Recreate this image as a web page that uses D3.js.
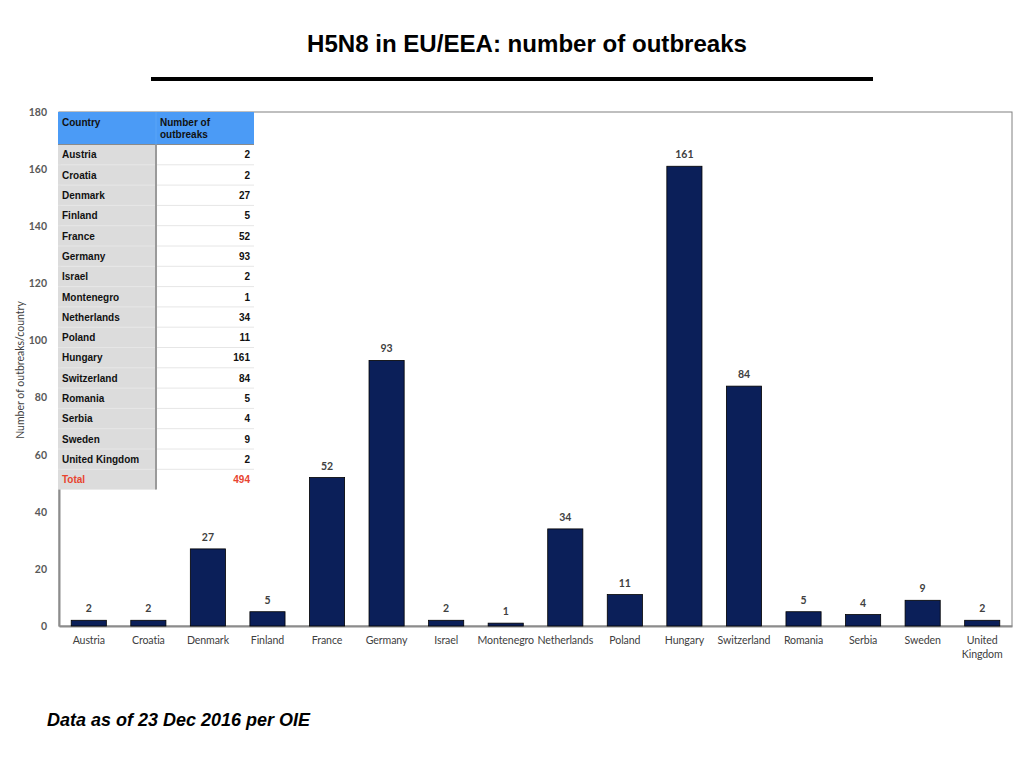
<!DOCTYPE html>
<html><head><meta charset="utf-8">
<script src="https://cdn.jsdelivr.net/npm/d3@7"></script>
<style>body{margin:0;background:#fff}svg{display:block}</style>
</head><body>
<script>
const countries = ["Austria","Croatia","Denmark","Finland","France","Germany","Israel","Montenegro","Netherlands","Poland","Hungary","Switzerland","Romania","Serbia","Sweden","United Kingdom"];
const outbreaks = [2,2,27,5,52,93,2,1,34,11,161,84,5,4,9,2];
const yTicks = [0,20,40,60,80,100,120,140,160,180];
const tableHeader = ["Country","Number of outbreaks"];
const totalLabel = "Total";
const totalValue = 494;
const titleText = "H5N8 in EU/EEA: number of outbreaks";
const footText = "Data as of 23 Dec 2016 per OIE";
const yTitle = "Number of outbreaks/country";

const W=1024,H=768;
const svg=d3.select("body").append("svg").attr("width",W).attr("height",H);
const L=59,R=1012,T=112,B=626;
const x=d3.scaleBand().domain(countries).range([L,R]).paddingInner(0.41).paddingOuter(0.205);
const y=d3.scaleLinear().domain([0,180]).range([B,T]);
const font="Lato, 'Open Sans', sans-serif";

// title
svg.append("text").attr("x",527).attr("y",52).attr("text-anchor","middle")
  .attr("font-family","'Liberation Sans', Arial, sans-serif").attr("font-weight","bold")
  .attr("font-size",24).attr("textLength",440).attr("lengthAdjust","spacingAndGlyphs").text(titleText);
svg.append("rect").attr("x",151).attr("y",77).attr("width",722).attr("height",4).attr("fill","#000");

// frame
svg.append("rect").attr("x",L).attr("y",T).attr("width",R-L).attr("height",B-T)
  .attr("fill","none").attr("stroke","#808080").attr("stroke-width",1);

// y axis
const ya=svg.append("g").attr("transform",`translate(${L},0)`)
  .call(d3.axisLeft(y).tickValues(yTicks).tickSize(0).tickPadding(12));
ya.select(".domain").attr("stroke","#8c8c8c").attr("stroke-width",2);
ya.selectAll("text").attr("font-family",font).attr("font-size",10.5).attr("font-weight",700).attr("fill","#595959");

// x axis
const xa=svg.append("g").attr("transform",`translate(0,${B})`)
  .call(d3.axisBottom(x).tickSize(0).tickPadding(10));
xa.select(".domain").attr("stroke","#8c8c8c").attr("stroke-width",2);
xa.selectAll("text").attr("font-family",font).attr("font-size",10.6).attr("letter-spacing","-0.1px").attr("fill","#404040")
  .each(function(d){
    if(d==="United Kingdom"){
      const t=d3.select(this).text(null);
      t.append("tspan").attr("x",0).attr("dy","0.71em").text("United");
      t.append("tspan").attr("x",0).attr("dy","1.4em").text("Kingdom");
    }
  });

// bars
svg.append("g").selectAll("rect").data(countries).join("rect")
  .attr("x",d=>x(d)).attr("width",x.bandwidth())
  .attr("y",(d,i)=>y(outbreaks[i])).attr("height",(d,i)=>B-y(outbreaks[i]))
  .attr("fill","#0b1f59").attr("stroke","#000").attr("stroke-width",0.8);

// value labels
svg.append("g").selectAll("text").data(countries).join("text")
  .attr("x",d=>x(d)+x.bandwidth()/2).attr("y",(d,i)=>y(outbreaks[i])-8)
  .attr("text-anchor","middle").attr("font-family",font).attr("font-size",10.5)
  .attr("font-weight",700).attr("fill","#404040").text((d,i)=>outbreaks[i]);

// y title
svg.append("text").attr("transform","translate(24,370) rotate(-90)").attr("text-anchor","middle")
  .attr("font-family",font).attr("font-size",10.5).attr("fill","#404040").text(yTitle);

// table
const tx=58, tc=156, tr=254, hTop=112, hBot=144.5, rowH=20.3;
const tg=svg.append("g");
tg.append("rect").attr("x",tx).attr("y",hTop).attr("width",tr-tx).attr("height",hBot-hTop).attr("fill","#4b9bf6");
const rows=countries.map((c,i)=>[c,outbreaks[i]]).concat([[totalLabel,totalValue]]);
const tfont="'Liberation Sans', Arial, sans-serif";
rows.forEach((r,i)=>{
  const ry=hBot+i*rowH;
  tg.append("rect").attr("x",tx).attr("y",ry).attr("width",tc-tx).attr("height",rowH).attr("fill","#dcdcdc");
  tg.append("rect").attr("x",tc).attr("y",ry).attr("width",tr-tc).attr("height",rowH).attr("fill","#fff");
  if(i>0) tg.append("line").attr("x1",tx).attr("x2",tr).attr("y1",ry).attr("y2",ry).attr("stroke","#e6e6e6").attr("stroke-width",1);
  const isTot=i===rows.length-1;
  tg.append("text").attr("x",tx+4).attr("y",ry+rowH/2+3.8).attr("font-family",tfont).attr("font-weight","bold")
    .attr("font-size",10).attr("fill",isTot?"#e8442f":"#111").text(r[0]);
  tg.append("text").attr("x",tr-4).attr("y",ry+rowH/2+3.8).attr("text-anchor","end").attr("font-family",tfont).attr("font-weight","bold")
    .attr("font-size",10).attr("fill",isTot?"#e8442f":"#111").text(r[1]);
});
tg.append("line").attr("x1",tx).attr("x2",tr).attr("y1",hBot).attr("y2",hBot).attr("stroke","#8a8a8a").attr("stroke-width",1);
tg.append("line").attr("x1",tc).attr("x2",tc).attr("y1",hBot).attr("y2",hBot+rows.length*rowH).attr("stroke","#9a9a9a").attr("stroke-width",2);
tg.append("line").attr("x1",tc).attr("x2",tc).attr("y1",hTop).attr("y2",hBot).attr("stroke","#5aa5f7").attr("stroke-width",1);
tg.append("text").attr("x",tx+4).attr("y",hTop+14).attr("font-family",tfont).attr("font-weight","bold").attr("font-size",10).attr("fill","#111").text(tableHeader[0]);
const ht=tg.append("text").attr("font-family",tfont).attr("font-weight","bold").attr("font-size",10).attr("fill","#111");
ht.append("tspan").attr("x",tc+4).attr("y",hTop+14).text("Number of");
ht.append("tspan").attr("x",tc+4).attr("y",hTop+25.5).text("outbreaks");

// footer
svg.append("text").attr("x",47).attr("y",726).attr("font-family","'Liberation Sans', Arial, sans-serif")
  .attr("font-weight","bold").attr("font-style","italic").attr("font-size",18)
  .attr("textLength",263).attr("lengthAdjust","spacingAndGlyphs").text(footText);
</script>
</body></html>
